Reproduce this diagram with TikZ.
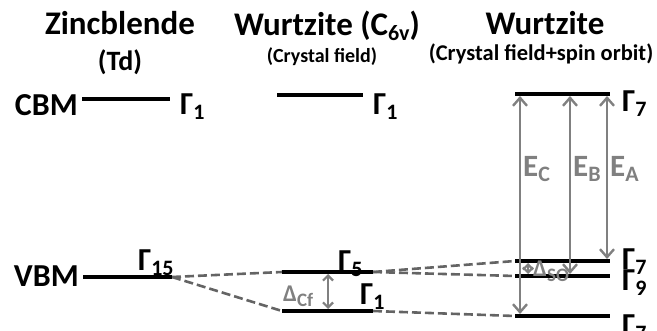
\documentclass[tikz,border=0pt]{standalone}
\usepackage{fontspec}
\setmainfont{Carlito}
\usetikzlibrary{arrows.meta, positioning, calc}
\definecolor{BandGray}{RGB}{128, 128, 128}
\definecolor{LinkGray}{RGB}{100, 100, 100}
\newcommand{\lowsub}[2][22]{\raisebox{-5pt}{\fontsize{#1}{#1}\selectfont #2}}
\newcommand{\fs}[1]{\fontsize{#1}{#1}\selectfont\bfseries}

\tikzset{
  level/.style={line width=4pt},
  link/.style={draw=LinkGray, line width=2.6pt, dash pattern=on 9pt off 4pt},
  trans/.style={draw=BandGray, line width=2.4pt, shorten <=2pt, shorten >=2pt,
    {Straight Barb[length=8pt, width=14pt]}-{Straight Barb[length=8pt, width=14pt]}},
  split/.style={draw=BandGray, line width=2.2pt, shorten <=2pt, shorten >=2pt,
    {Straight Barb[length=5pt, width=10pt]}-{Straight Barb[length=5pt, width=10pt]}},
  title/.style={anchor=base, inner sep=0pt, font=\fs{33}},
  glabel/.style={anchor=base west, inner sep=0pt, font=\fs{32}},
  gaplabel/.style={anchor=base west, inner sep=0pt, text=BandGray},
}

\begin{document}
\begin{tikzpicture}[x=1pt, y=-1pt, font=\bfseries]
  \useasboundingbox (0,0) rectangle (657,331);

  % column titles
  \node[title] (zb-title) at (120,35) {Zincblende};
  \node[title, font=\fs{28}] (zb-sym) at (120,71) {(Td)};
  \node[title] (wz-title) at (327,36) {Wurtzite (C\lowsub{6v})};
  \node[title, font=\fs{20}] (wz-sym) at (322,63) {(Crystal field)};
  \node[title] (so-title) at (545,35) {Wurtzite};
  \node[title, font=\fs{22.5}] (so-sym) at (541,61) {(Crystal field+spin orbit)};

  % level end points
  \coordinate (zbc-l) at (82,99);   \coordinate (zbc-r) at (170,99);
  \coordinate (zbv-l) at (83,277);  \coordinate (zbv-r) at (172,277);
  \coordinate (wcc-l) at (277,95);  \coordinate (wcc-r) at (363,95);
  \coordinate (g5-l) at (282,272);  \coordinate (g5-r) at (373,272);
  \coordinate (g1-l) at (282,311);  \coordinate (g1-r) at (373,311);
  \coordinate (g7t-l) at (515,94);  \coordinate (g7t-r) at (610,94);
  \coordinate (g7-l) at (515,261);  \coordinate (g7-r) at (610,261);
  \coordinate (g9-l) at (515,276);  \coordinate (g9-r) at (610,276);
  \coordinate (g7b-l) at (515,316); \coordinate (g7b-r) at (610,316);

  % correlation lines
  \draw[link] (zbv-r) -- (g5-l);
  \draw[link] (zbv-r) -- (g1-l);
  \draw[link] (g5-r) -- (g7-l);
  \draw[link] (g5-r) -- (g9-l);
  \draw[link] (g1-r) -- (g7b-l);

  % levels
  \foreach \lv in {zbc, zbv, wcc, g5, g1, g7t, g7, g9, g7b}
    \draw[level] (\lv-l) -- (\lv-r);

  % band edge names
  \node[anchor=base east, inner sep=0pt, font=\fs{32}] (cbm) at (78,116) {CBM};
  \node[anchor=base east, inner sep=0pt, font=\fs{32}] (vbm) at (79,287) {VBM};

  % symmetry labels
  \node[glabel] (zbc-lab) at (180,115) {Γ\lowsub{1}};
  \node[glabel] (zbv-lab) at (138,271) {Γ\lowsub{15}};
  \node[glabel] (wcc-lab) at (373,115) {Γ\lowsub{1}};
  \node[glabel] (g5-lab) at (338,272) {Γ\lowsub{5}};
  \node[glabel] (g1-lab) at (360,305) {Γ\lowsub{1}};
  \node[glabel] (g7t-lab) at (622,112) {Γ\lowsub{7}};
  \node[glabel] (g7-lab) at (622,270) {Γ\lowsub{7}};
  \node[glabel] (g9-lab) at (622,291) {Γ\lowsub{9}};
  \node[glabel] (g7b-lab) at (622,336) {Γ\lowsub{7}};

  % transitions and splittings
  \coordinate (ec) at (520,0);
  \coordinate (eb) at (570,0);
  \coordinate (ea) at (607,0);
  \coordinate (dso) at (528,0);
  \coordinate (dcf) at (328,0);
  \draw[trans] (ec |- g7b-l) -- (ec |- g7t-l);
  \draw[trans] (eb |- g9-l) -- (eb |- g7t-l);
  \draw[trans] (ea |- g7-l) -- (ea |- g7t-l);
  \draw[split] (dso |- g9-l) -- (dso |- g7-l);
  \draw[split] (dcf |- g1-l) -- (dcf |- g5-l);

  \node[gaplabel, font=\fs{31}] (ec-lab) at (523,177) {E\lowsub{C}};
  \node[gaplabel, font=\fs{31}] (eb-lab) at (573,177) {E\lowsub{B}};
  \node[gaplabel, font=\fs{31}] (ea-lab) at (610,177) {E\lowsub{A}};
  \node[gaplabel, font=\fs{24}] (dcf-lab) at (283,302) {Δ\lowsub[19]{Cf}};
  \node[gaplabel, font=\fs{24}] (dso-lab) at (533,277) {Δ\lowsub[19]{SO}};
\end{tikzpicture}
\end{document}
